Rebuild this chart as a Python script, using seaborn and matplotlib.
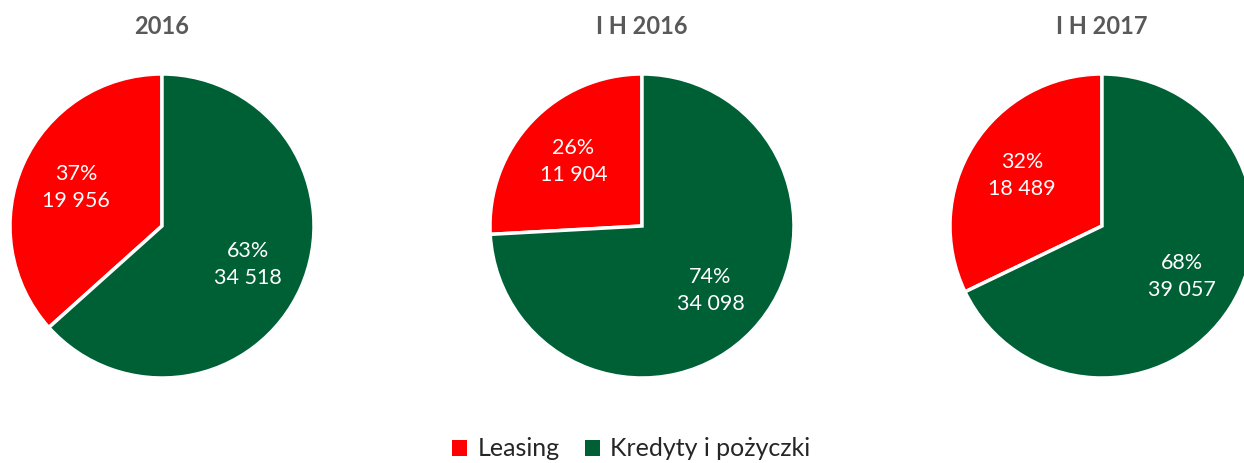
import matplotlib
matplotlib.use("Agg")
import matplotlib.pyplot as plt
import seaborn as sns

periods = ["2016", "I H 2016", "I H 2017"]
categories = ["Leasing", "Kredyty i pożyczki"]
leasing = [19956, 11904, 18489]
kredyty = [34518, 34098, 39057]
colors = ["#FF0000", "#006035"]

sns.set_theme(style="white")
plt.rcParams["font.family"] = ["Lato", "DejaVu Sans"]

W, H = 1244, 463
fig = plt.figure(figsize=(W / 100, H / 100), dpi=100)

centers_x = [162, 642, 1102]
center_y = 237
r = 152


def make_autopct(vals):
    total = sum(vals)

    def fmt(pct):
        v = int(round(pct * total / 100.0))
        return f"{pct:.0f}%\n{v:,}".replace(",", " ")
    return fmt


for i, period in enumerate(periods):
    ax = fig.add_axes([(centers_x[i] - r) / W, (center_y - r) / H, 2 * r / W, 2 * r / H])
    vals = [leasing[i], kredyty[i]]
    ax.pie(
        vals, colors=colors, startangle=90, counterclock=True,
        autopct=make_autopct(vals), pctdistance=0.62,
        wedgeprops=dict(edgecolor="white", linewidth=2.5),
        textprops=dict(color="white", fontsize=15.5, linespacing=1.45),
        radius=1.0,
    )
    ax.set_xlim(-1, 1)
    ax.set_ylim(-1, 1)
    ax.set_aspect("equal")
    ax.axis("off")
    fig.text(centers_x[i] / W, 1 - 27 / H, period, ha="center", va="center",
             fontsize=17, fontweight="bold", color="#595959")

handles = [plt.Rectangle((0, 0), 1, 1, facecolor=c, edgecolor="none") for c in colors]
fig.legend(handles, categories, loc="center", bbox_to_anchor=(631 / W, 1 - 449 / H),
           ncol=2, frameon=False, fontsize=18, handlelength=0.6, handleheight=0.6,
           handletextpad=0.4, columnspacing=1.0)

fig.savefig("out.png", dpi=100)
